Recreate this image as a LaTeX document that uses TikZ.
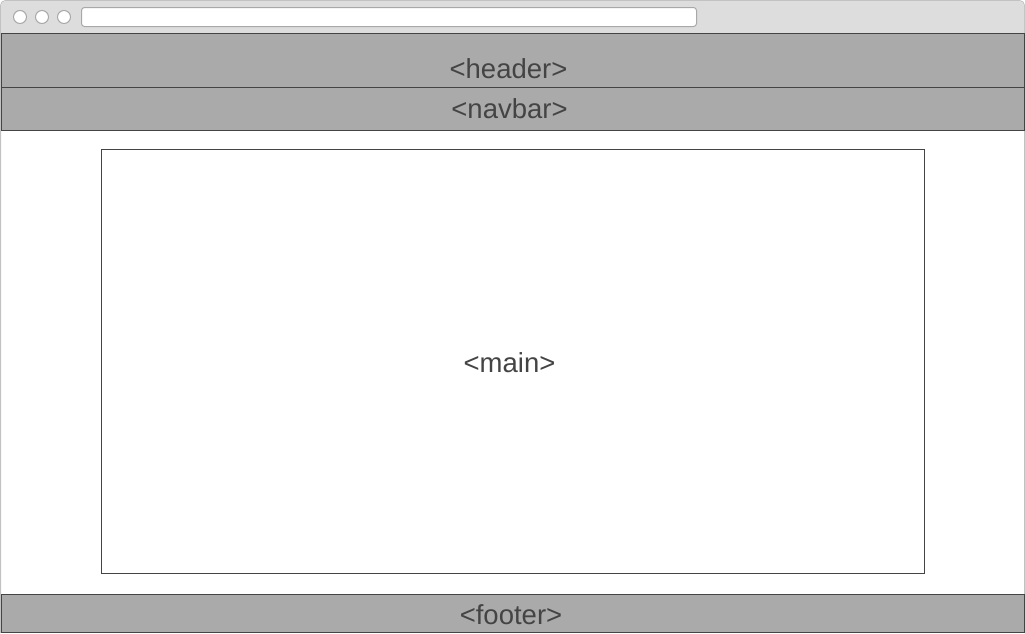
\documentclass[tikz,border=0pt]{standalone}
\usepackage{fontspec}
\setmainfont{Liberation Sans}
\definecolor{barfill}{HTML}{AAAAAA}
\definecolor{edge}{HTML}{444444}
\definecolor{chrome}{HTML}{DDDDDD}
\definecolor{frame}{HTML}{A8A8A8}
\tikzset{
  block/.style={draw=edge, fill=barfill, line width=1pt},
  tag/.style={text=edge, font=\fontsize{27.5}{32}\selectfont, inner sep=0pt, anchor=base}
}
\begin{document}
\begin{tikzpicture}[x=1pt, y=-1pt]
    \useasboundingbox (0,0) rectangle (1025,633);

    %Fenetre
    \draw[frame!70, fill=white, line width=1pt, rounded corners=5pt] (0.5,633) -- (0.5,0.5) -- (1024.5,0.5) -- (1024.5,633);
    \fill[chrome, rounded corners=5pt] (1,1) rectangle (1024,40);
    \fill[chrome] (1,20) rectangle (1024,33);
    \draw[frame] (0.5,33) -- (1024.5,33);
    \foreach \x in {20,42,64}
        \draw[frame, line width=1pt, fill=white] (\x,17) circle(6.5);
    \draw[frame, line width=1pt, fill=white, rounded corners=3pt] (81.5,7.5) rectangle (696.5,26.5);

    %Blocs
    \draw[block] (1,33.5) rectangle (1024.5,87);
    \draw[block] (1,87) rectangle (1024.5,130.5);
    \draw[edge, fill=white] (101.5,149.5) rectangle (924.5,573.5);
    \draw[block] (1,594.5) rectangle (1024.5,632.5);

    %Etiquettes
    \node[tag] (header) at (508.5,78) {<header>};
    \node[tag] (navbar) at (509.5,118) {<navbar>};
    \node[tag] (main) at (509.5,372) {<main>};
    \node[tag] (footer) at (511,624) {<footer>};
  \end{tikzpicture}
\end{document}
